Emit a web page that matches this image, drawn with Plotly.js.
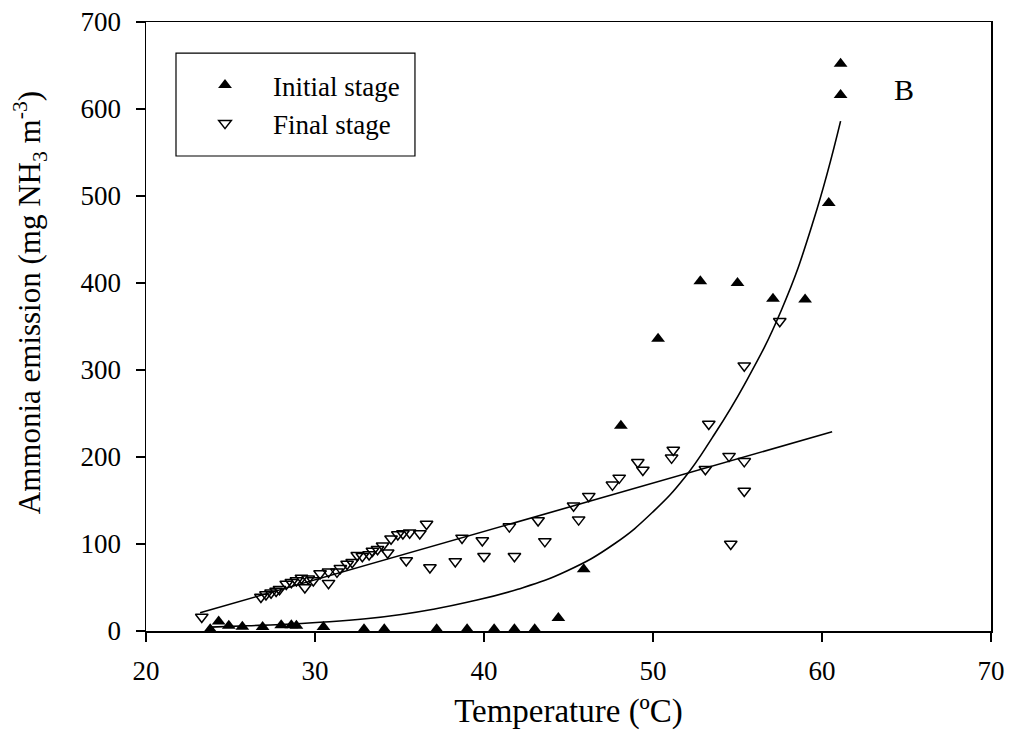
<!DOCTYPE html>
<html>
<head>
<meta charset="utf-8">
<script src="https://cdn.plot.ly/plotly-3.0.1.min.js"></script>
<style>
html, body { margin: 0; padding: 0; background: #ffffff; }
#chart { width: 1009px; height: 752px; }
</style>
</head>
<body>
<div id="chart"></div>
<script>
// Initial stage (filled triangles)
const initialTemp = [23.8, 24.3, 24.9, 25.7, 26.9, 28.0, 28.6, 28.9, 30.5, 32.9, 34.1,
  37.2, 39.0, 40.6, 41.8, 43.0, 44.4, 45.9, 48.1, 50.3, 52.8, 55.0, 57.1, 59.0, 60.4, 61.1, 61.1];
const initialNH3 = [2, 11, 6, 5, 4.5, 6.5, 6.5, 6, 4.5, 2, 2,
  2, 2, 2, 2, 2, 15, 71, 236, 336, 402, 400, 382, 381, 492, 616, 652];

// Final stage (open inverted triangles)
const finalTemp = [23.3, 26.8, 27.1, 27.4, 27.7, 27.9, 28.3, 28.6, 28.9, 29.2, 29.4, 29.6, 29.9,
  30.3, 30.8, 30.8, 31.3, 31.5, 31.9, 32.2, 32.5, 32.8, 33.2, 33.4, 33.7, 34.0, 34.3, 34.5,
  34.9, 35.2, 35.6, 36.2, 36.6, 35.4, 36.8, 38.3, 38.7, 39.9, 40.0, 41.5, 41.8, 43.2, 43.6,
  45.3, 45.6, 46.2, 47.6, 48.0, 49.1, 49.4, 51.2, 51.1, 53.1, 53.3, 54.5, 55.4, 55.4, 54.6, 55.4, 57.5];
const finalNH3 = [16, 39, 42, 44, 46, 48, 54, 56, 58, 61, 50, 60, 58,
  66, 55, 68, 68, 72, 77, 79, 87, 86, 88, 92, 94, 98, 90, 106,
  111, 112, 113, 112, 123, 81, 73, 80, 107, 104, 86, 120, 86, 127, 103,
  144, 128, 155, 168, 176, 194, 185, 208, 199, 186, 238, 201, 195, 161, 100, 305, 356];

// Fitted curves
const linFitTemp = [23.2, 35.1, 52.8, 60.6];
const linFitNH3 = [21, 87, 186, 229];
const expFitTemp = [23.8, 26, 28, 30.3, 33, 35.1, 37, 39, 42, 44.9, 47.7, 50, 51.9, 53.5, 55.4, 57.6, 59.5, 61.1];
const expFitNH3 = [4.5, 6, 7.5, 10, 14, 19, 25, 33, 48, 69, 100, 137, 177, 222, 283, 369, 472, 586];

const legendNames = ['Initial stage', 'Final stage'];
const xTitle = 'Temperature (ºC)';
const yTitle = 'Ammonia emission (mg NH<sub>3</sub> m<sup>-3</sup>)';
const panelLabel = 'B';

const serif = 'Liberation Serif, Times New Roman, serif';

const traces = [
  {
    x: linFitTemp, y: linFitNH3, type: 'scatter', mode: 'lines',
    line: { color: '#000', width: 1.6 }, showlegend: false, hoverinfo: 'skip'
  },
  {
    x: expFitTemp, y: expFitNH3, type: 'scatter', mode: 'lines',
    line: { color: '#000', width: 1.6, shape: 'spline', smoothing: 1.3 }, showlegend: false, hoverinfo: 'skip'
  },
  {
    x: initialTemp, y: initialNH3, type: 'scatter', mode: 'markers', name: legendNames[0],
    marker: { symbol: 'triangle-up', size: 12, color: '#000' }, cliponaxis: false
  },
  {
    x: finalTemp, y: finalNH3, type: 'scatter', mode: 'markers', name: legendNames[1],
    marker: { symbol: 'triangle-down-open', size: 11, color: '#000', line: { width: 1.5, color: '#000' } },
    cliponaxis: false
  }
];

const layout = {
  width: 1009, height: 752,
  margin: { l: 146, r: 18, t: 22, b: 121 },
  paper_bgcolor: '#fff', plot_bgcolor: '#fff',
  font: { family: serif, color: '#000', size: 26 },
  showlegend: true,
  legend: {
    x: 0.0367, y: 0.936, xanchor: 'left', yanchor: 'top',
    bgcolor: 'rgba(0,0,0,0)', borderwidth: 0,
    font: { family: serif, size: 27, color: '#000' },
    itemwidth: 86, tracegroupgap: 0
  },
  xaxis: {
    range: [20, 70], dtick: 10, tick0: 20,
    showgrid: false, zeroline: false,
    showline: true, linecolor: '#000', linewidth: 1.5, mirror: true,
    ticks: 'outside', ticklen: 9, tickwidth: 1.5, tickcolor: '#000',
    ticklabelstandoff: 6,
    tickfont: { family: serif, size: 27, color: '#000' },
    title: { text: xTitle, font: { family: serif, size: 33, color: '#000' }, standoff: 14 }
  },
  yaxis: {
    range: [0, 700], dtick: 100, tick0: 0,
    showgrid: false, zeroline: false,
    showline: true, linecolor: '#000', linewidth: 1.5, mirror: true,
    ticks: 'outside', ticklen: 9, tickwidth: 1.5, tickcolor: '#000',
    ticklabelstandoff: 9,
    tickfont: { family: serif, size: 27, color: '#000' },
    title: { text: '' }
  },
  shapes: [
    { type: 'rect', xref: 'paper', yref: 'paper', x0: 0.0355, x1: 0.3183, y0: 0.780, y1: 0.949,
      line: { color: '#000', width: 1.2 }, fillcolor: 'rgba(0,0,0,0)', layer: 'above' }
  ],
  annotations: [
    { x: 64.85, y: 622, xref: 'x', yref: 'y', text: panelLabel, showarrow: false,
      font: { family: serif, size: 30, color: '#000' } },
    { x: -0.137, y: 0.5386, xref: 'paper', yref: 'paper', text: yTitle, textangle: -90,
      showarrow: false, xanchor: 'center', yanchor: 'middle',
      font: { family: serif, size: 31, color: '#000' } }
  ]
};

Plotly.newPlot('chart', traces, layout, { displayModeBar: false, staticPlot: true });
</script>
</body>
</html>
